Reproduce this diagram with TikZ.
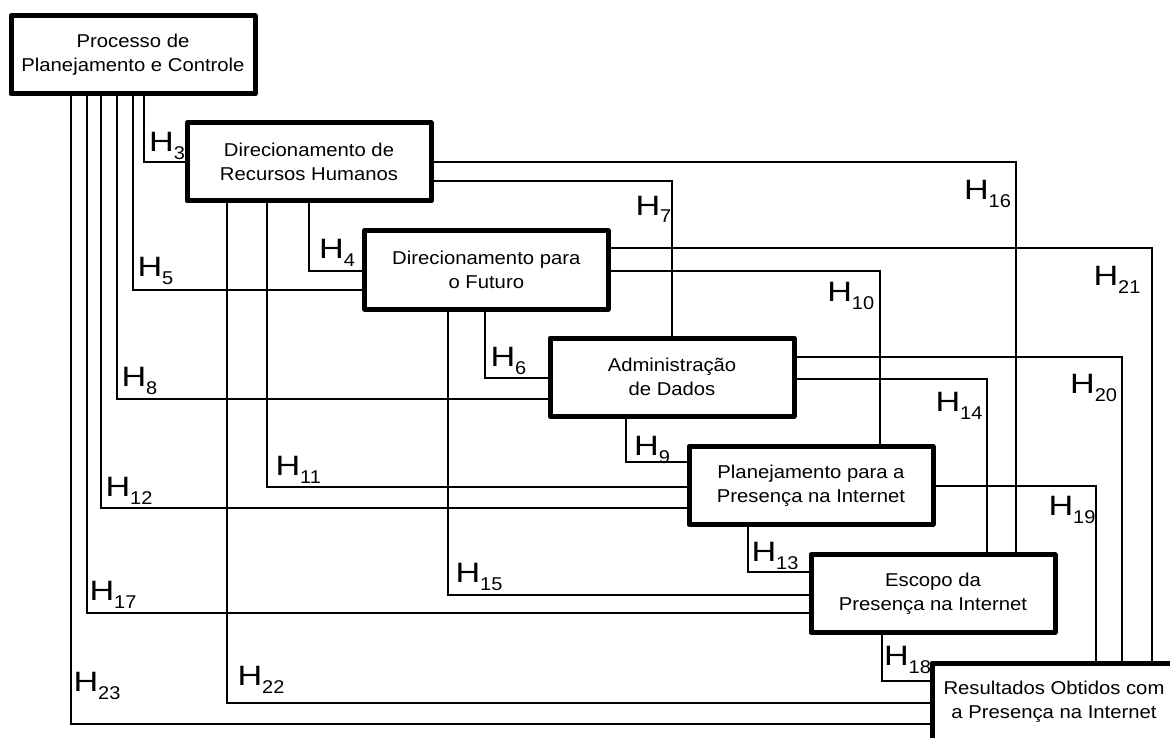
\documentclass[tikz,border=0pt]{standalone}
\usepackage{fontspec}
\setmainfont{Liberation Sans}
\newfontfamily\boxfont[FakeStretch=1.09]{Liberation Sans}
\newfontfamily\hfont[FakeStretch=1.22]{Liberation Sans}
\newfontfamily\subfont[FakeStretch=1.08]{Liberation Sans}
% hypothesis label: H with a lowered index
\newcommand\hyp[1]{{\hfont\fontsize{28}{28}\selectfont H}\raisebox{-8pt}{\subfont\fontsize{18.5}{18.5}\selectfont #1}}

\pgfdeclarelayer{bg}
\pgfsetlayers{bg,main}

\tikzset{
  stage/.style={draw, line width=5pt, line join=round, fill=white,
    minimum width=244pt, minimum height=78pt, inner sep=0pt, align=center,
    font=\boxfont\fontsize{18.6}{24}\selectfont},
  link/.style={line width=2pt},
  hlabel/.style={anchor=base west, inner sep=0pt}
}

\begin{document}
\begin{tikzpicture}[x=1pt,y=-1pt]
\clip (0,0) rectangle (1170,738);

% stages
\node[stage] (b1) at (133,55)    {Processo de\\Planejamento e Controle};
\node[stage] (b2) at (309,162)   {Direcionamento de\\Recursos Humanos};
\node[stage] (b3) at (486.3,270) {Direcionamento para\\o Futuro};
\node[stage] (b4) at (672,377)   {Administração\\de Dados};
\node[stage] (b5) at (811,485.3) {Planejamento para a\\Presença na Internet};
\node[stage] (b6) at (933,593.7) {Escopo da\\Presença na Internet};
\node[stage] (b7) at (1054,702)  {Resultados Obtidos com\\a Presença na Internet};

\begin{pgfonlayer}{bg}
\fill[white] (0,0) rectangle (1170,738);
% from Processo de Planejamento e Controle
\draw[link] (144,0 |- b1.south) |- (b2.west |- 0,162);
\draw[link] (133,0 |- b1.south) |- (b3.west |- 0,290);
\draw[link] (117,0 |- b1.south) |- (b4.west |- 0,398.5);
\draw[link] (101,0 |- b1.south) |- (b5.west |- 0,508);
\draw[link] (87,0 |- b1.south)  |- (b6.west |- 0,612.5);
\draw[link] (71,0 |- b1.south)  |- (b7.west |- 0,724);
% from Direcionamento de Recursos Humanos
\draw[link] (b2.east |- 0,162)   -| (1016,0 |- b6.north);
\draw[link] (b2.east |- 0,180.7) -| (671.7,0 |- b4.north);
\draw[link] (227,0 |- b2.south) |- (b7.west |- 0,702.7);
\draw[link] (267,0 |- b2.south) |- (b5.west |- 0,486.7);
\draw[link] (309,0 |- b2.south) |- (b3.west |- 0,271);
% from Direcionamento para o Futuro
\draw[link] (b3.east |- 0,248.5) -| (1152,0 |- b7.north);
\draw[link] (b3.east |- 0,271)   -| (879.5,0 |- b5.north);
\draw[link] (447.5,0 |- b3.south) |- (b6.west |- 0,595);
\draw[link] (485,0 |- b3.south)   |- (b4.west |- 0,378);
% from Administracao de Dados
\draw[link] (b4.east |- 0,356.7) -| (1122,0 |- b7.north);
\draw[link] (b4.east |- 0,378.5) -| (987,0 |- b6.north);
\draw[link] (625.7,0 |- b4.south) |- (b5.west |- 0,461.7);
% from Planejamento para a Presenca na Internet
\draw[link] (b5.east |- 0,486) -| (1095.6,0 |- b7.north);
\draw[link] (747.7,0 |- b5.south) |- (b6.west |- 0,572.3);
% from Escopo da Presenca na Internet
\draw[link] (881.8,0 |- b6.south) |- (b7.west |- 0,680.7);
\end{pgfonlayer}

% hypothesis labels
\node[hlabel] (h3)  at (149,151.7)  {\hyp{3}};
\node[hlabel] (h4)  at (319,258.3)  {\hyp{4}};
\node[hlabel] (h5)  at (137.3,276.7) {\hyp{5}};
\node[hlabel] (h6)  at (490.3,366.7) {\hyp{6}};
\node[hlabel] (h7)  at (635.3,215)  {\hyp{7}};
\node[hlabel] (h8)  at (121.3,386)  {\hyp{8}};
\node[hlabel] (h9)  at (634,455)    {\hyp{9}};
\node[hlabel] (h10) at (827.1,301.7) {\hyp{10}};
\node[hlabel] (h11) at (275.3,475)  {\hyp{11}};
\node[hlabel] (h12) at (105.3,496.7) {\hyp{12}};
\node[hlabel] (h13) at (751.3,561.7) {\hyp{13}};
\node[hlabel] (h14) at (935.3,411.7) {\hyp{14}};
\node[hlabel] (h15) at (455.3,582.7) {\hyp{15}};
\node[hlabel] (h16) at (963.8,200)  {\hyp{16}};
\node[hlabel] (h17) at (89.3,600.7) {\hyp{17}};
\node[hlabel] (h18) at (883.8,665)  {\hyp{18}};
\node[hlabel] (h19) at (1048.3,515) {\hyp{19}};
\node[hlabel] (h20) at (1070,393.3) {\hyp{20}};
\node[hlabel] (h21) at (1093.3,285) {\hyp{21}};
\node[hlabel] (h22) at (237.3,685)  {\hyp{22}};
\node[hlabel] (h23) at (73.3,691)   {\hyp{23}};
\end{tikzpicture}
\end{document}
